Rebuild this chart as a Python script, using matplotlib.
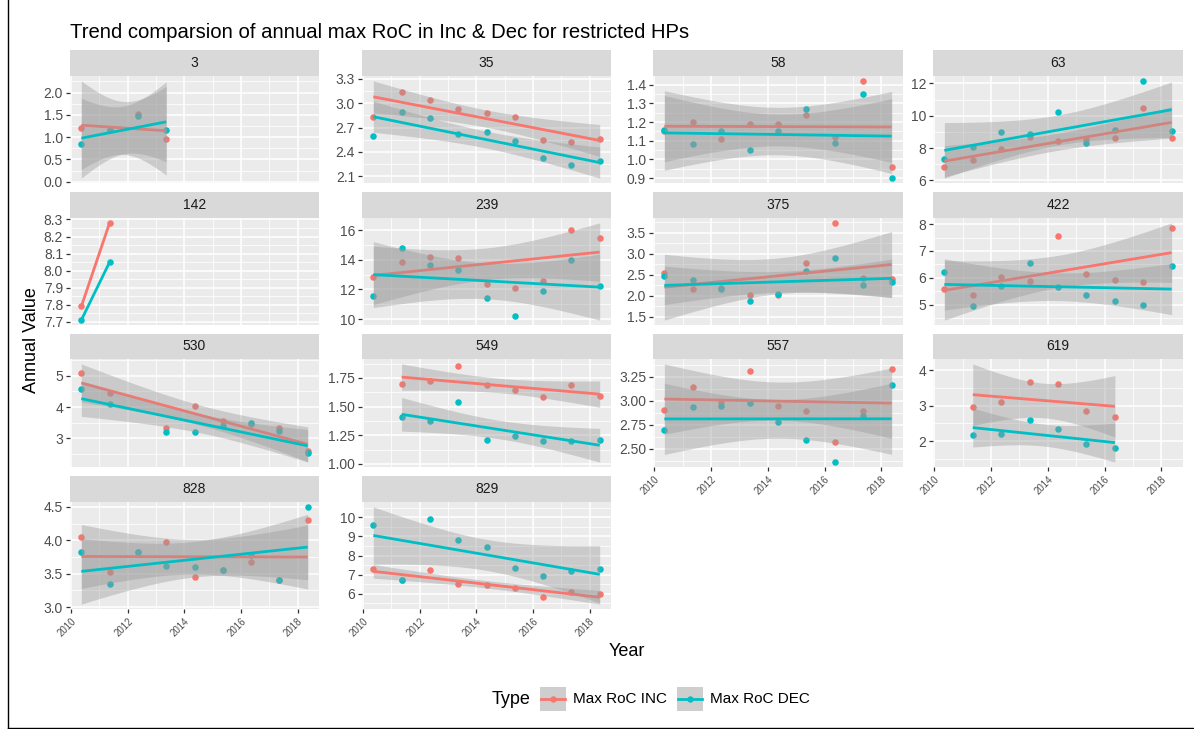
import numpy as np
import pandas as pd
import matplotlib
matplotlib.use("Agg")
import matplotlib.pyplot as plt
from matplotlib.ticker import FixedLocator, MultipleLocator, NullFormatter
from matplotlib.patches import Rectangle
from matplotlib.lines import Line2D

plt.rcParams["font.family"] = ["Liberation Sans", "DejaVu Sans"]

# === DATA ===
TITLE = "Trend comparsion of annual max RoC in Inc & Dec for restricted HPs"
series_names = ["Max RoC INC", "Max RoC DEC"]
obs_day = "05-12"   # annual max values are dated mid-May

hp3_years = [2010, 2011, 2012, 2013]
hp3_inc = [1.21, 1.15, 1.51, 0.95]
hp3_dec = [0.85, 1.16, 1.48, 1.15]
hp3_ticks = ["0.0", "0.5", "1.0", "1.5", "2.0"]

hp35_years = list(range(2010, 2019))
hp35_inc = [2.83, 3.14, 3.04, 2.93, 2.88, 2.83, 2.55, 2.52, 2.56]
hp35_dec = [2.59, 2.89, 2.82, 2.62, 2.65, 2.53, 2.33, 2.24, 2.29]
hp35_ticks = ["2.1", "2.4", "2.7", "3.0", "3.3"]

hp58_years = list(range(2010, 2019))
hp58_inc = [1.15, 1.20, 1.11, 1.19, 1.19, 1.24, 1.12, 1.42, 0.96]
hp58_dec = [1.16, 1.08, 1.15, 1.05, 1.15, 1.27, 1.09, 1.35, 0.90]
hp58_ticks = ["0.9", "1.0", "1.1", "1.2", "1.3", "1.4"]

hp63_years = list(range(2010, 2019))
hp63_inc = [6.82, 7.28, 7.96, 8.68, 8.45, 8.58, 8.64, 10.49, 8.60]
hp63_dec = [7.30, 8.06, 8.99, 8.85, 10.25, 8.29, 9.11, 12.16, 9.03]
hp63_ticks = ["6", "8", "10", "12"]

hp142_years = [2010, 2011]
hp142_inc = [7.79, 8.28]
hp142_dec = [7.71, 8.05]
hp142_ticks = ["7.7", "7.8", "7.9", "8.0", "8.1", "8.2", "8.3"]

hp239_years = list(range(2010, 2019))
hp239_inc = [12.87, 13.85, 14.16, 14.12, 12.40, 12.08, 12.60, 16.00, 15.49]
hp239_dec = [11.55, 14.81, 13.65, 13.34, 11.46, 10.25, 11.93, 13.99, 12.22]
hp239_ticks = ["10", "12", "14", "16"]

hp375_years = list(range(2010, 2019))
hp375_inc = [2.55, 2.16, 2.19, 2.02, 2.01, 2.79, 3.73, 2.42, 2.40]
hp375_dec = [2.47, 2.37, 2.17, 1.88, 2.04, 2.58, 2.89, 2.26, 2.33]
hp375_ticks = ["1.5", "2.0", "2.5", "3.0", "3.5"]

hp422_years = list(range(2010, 2019))
hp422_inc = [5.58, 5.35, 6.02, 5.90, 7.54, 6.15, 5.91, 5.84, 7.84]
hp422_dec = [6.23, 4.95, 5.69, 6.56, 5.65, 5.35, 5.15, 5.00, 6.44]
hp422_ticks = ["5", "6", "7", "8"]

hp530_years = [2010, 2011, 2013, 2014, 2015, 2016, 2017, 2018]
hp530_inc = [5.08, 4.45, 3.32, 4.03, 3.56, 3.45, 3.34, 2.61]
hp530_dec = [4.56, 4.11, 3.20, 3.20, 3.40, 3.49, 3.25, 2.54]
hp530_ticks = ["3", "4", "5"]

hp549_years = list(range(2011, 2019))
hp549_inc = [1.70, 1.72, 1.85, 1.69, 1.64, 1.58, 1.69, 1.59]
hp549_dec = [1.41, 1.37, 1.54, 1.21, 1.24, 1.20, 1.20, 1.21]
hp549_ticks = ["1.00", "1.25", "1.50", "1.75"]

hp557_years = list(range(2010, 2019))
hp557_inc = [2.90, 3.15, 2.99, 3.31, 2.95, 2.89, 2.57, 2.89, 3.33]
hp557_dec = [2.70, 2.94, 2.95, 2.98, 2.78, 2.59, 2.36, 2.84, 3.17]
hp557_ticks = ["2.50", "2.75", "3.00", "3.25"]

hp619_years = list(range(2011, 2017))
hp619_inc = [2.97, 3.11, 3.67, 3.60, 2.85, 2.68]
hp619_dec = [2.17, 2.20, 2.61, 2.34, 1.92, 1.80]
hp619_ticks = ["2", "3", "4"]

hp828_years = list(range(2010, 2019))
hp828_inc = [4.05, 3.53, 3.83, 3.97, 3.45, 3.56, 3.68, 3.40, 4.31]
hp828_dec = [3.82, 3.35, 3.82, 3.62, 3.60, 3.56, 3.78, 3.40, 4.50]
hp828_ticks = ["3.0", "3.5", "4.0", "4.5"]

hp829_years = list(range(2010, 2019))
hp829_inc = [7.30, 6.75, 7.25, 6.50, 6.45, 6.30, 5.85, 6.10, 6.00]
hp829_dec = [9.60, 6.75, 9.90, 8.80, 8.45, 7.35, 6.95, 7.20, 7.30]
hp829_ticks = ["6", "7", "8", "9", "10"]

x_breaks = ["2010", "2012", "2014", "2016", "2018"]

panels = [
    ("3", hp3_years, hp3_inc, hp3_dec, hp3_ticks),
    ("35", hp35_years, hp35_inc, hp35_dec, hp35_ticks),
    ("58", hp58_years, hp58_inc, hp58_dec, hp58_ticks),
    ("63", hp63_years, hp63_inc, hp63_dec, hp63_ticks),
    ("142", hp142_years, hp142_inc, hp142_dec, hp142_ticks),
    ("239", hp239_years, hp239_inc, hp239_dec, hp239_ticks),
    ("375", hp375_years, hp375_inc, hp375_dec, hp375_ticks),
    ("422", hp422_years, hp422_inc, hp422_dec, hp422_ticks),
    ("530", hp530_years, hp530_inc, hp530_dec, hp530_ticks),
    ("549", hp549_years, hp549_inc, hp549_dec, hp549_ticks),
    ("557", hp557_years, hp557_inc, hp557_dec, hp557_ticks),
    ("619", hp619_years, hp619_inc, hp619_dec, hp619_ticks),
    ("828", hp828_years, hp828_inc, hp828_dec, hp828_ticks),
    ("829", hp829_years, hp829_inc, hp829_dec, hp829_ticks),
]

# === STYLE ===
COLORS = ["#F8766D", "#00BFC4"]
PANEL_BG = "#EBEBEB"
STRIP_BG = "#D9D9D9"
TXT = "#4D4D4D"
T975 = {1: 12.706, 2: 4.303, 3: 3.182, 4: 2.776, 5: 2.571, 6: 2.447,
        7: 2.365, 8: 2.306, 9: 2.262, 10: 2.228}

W, H = 1194, 729


def to_dec(years):
    d = pd.to_datetime([f"{y}-{obs_day}" for y in years])
    return np.array(d.year + (d.dayofyear - 1) / 365.25)


def lm_band(x, y):
    # linear fit with 95% confidence band (like geom_smooth(method = "lm"))
    x = np.asarray(x, float)
    y = np.asarray(y, float)
    n = len(x)
    xm = x.mean()
    b1, b0 = np.polyfit(x - xm, y, 1)
    xs = np.linspace(x.min(), x.max(), 80)
    fit = b0 + b1 * (xs - xm)
    if n <= 2:
        return xs, fit, None, None
    resid = y - (b0 + b1 * (x - xm))
    s = np.sqrt(np.sum(resid ** 2) / (n - 2))
    sxx = np.sum((x - xm) ** 2)
    se = s * np.sqrt(1 / n + (xs - xm) ** 2 / sxx)
    t = T975[n - 2]
    return xs, fit, fit - t * se, fit + t * se


def fbox(x0, y0, x1, y1):
    # pixel box (top-left origin) -> figure fraction rect
    return [x0 / W, 1 - y1 / H, (x1 - x0) / W, (y1 - y0) / H]


# global x range (shared x scale)
all_x = np.concatenate([to_dec(p[1]) for p in panels])
xspan = all_x.max() - all_x.min()
XLIM = (all_x.min() - 0.05 * xspan, all_x.max() + 0.05 * xspan)

col_px = [(70, 319), (362, 611), (653, 903), (933, 1183)]
row_px = [(50, 76, 183), (192, 218, 325), (334, 359, 467), (476, 502, 609)]
bottom_axis = {"557", "619", "828", "829"}

fig = plt.figure(figsize=(W / 100, H / 100), dpi=100)

for i, (name, years, inc, dec, ticks) in enumerate(panels):
    r, c = divmod(i, 4)
    x0, x1 = col_px[c]
    s0, p0, p1 = row_px[r]
    ax = fig.add_axes(fbox(x0, p0, x1, p1))
    sax = fig.add_axes(fbox(x0, s0, x1, p0))
    sax.set_facecolor(STRIP_BG)
    sax.set_xticks([])
    sax.set_yticks([])
    for sp in sax.spines.values():
        sp.set_visible(False)
    sax.text(0.5, 0.5, name, ha="center", va="center", fontsize=10, color="#1A1A1A",
             transform=sax.transAxes)

    x = to_dec(years)
    ax.set_facecolor(PANEL_BG)
    for sp in ax.spines.values():
        sp.set_visible(False)

    lo, hi = [], []
    for vals, col in zip([inc, dec], COLORS):
        ax.scatter(x, vals, s=22, color=col, zorder=2, linewidths=0)
        lo.append(min(vals))
        hi.append(max(vals))
    z = 3
    for vals, col in zip([inc, dec], COLORS):
        xs, fit, bl, bu = lm_band(x, vals)
        if bl is not None:
            ax.fill_between(xs, bl, bu, color="#999999", alpha=0.4, linewidth=0, zorder=z)
            lo.append(bl.min())
            hi.append(bu.max())
        ax.plot(xs, fit, color=col, linewidth=2.0, zorder=z + 1, solid_capstyle="butt")
        z += 2

    ymin, ymax = min(lo), max(hi)
    yspan = ymax - ymin
    ax.set_ylim(ymin - 0.05 * yspan, ymax + 0.05 * yspan)
    ax.set_xlim(*XLIM)

    yt = [float(t) for t in ticks]
    ax.yaxis.set_major_locator(FixedLocator(yt))
    ax.set_yticklabels(ticks)
    ax.yaxis.set_minor_locator(MultipleLocator((yt[1] - yt[0]) / 2))
    xt = [int(b) for b in x_breaks]
    ax.xaxis.set_major_locator(FixedLocator(xt))
    ax.xaxis.set_minor_locator(MultipleLocator(1))
    ax.yaxis.set_minor_formatter(NullFormatter())
    ax.xaxis.set_minor_formatter(NullFormatter())

    ax.grid(which="major", color="white", linewidth=1.1, zorder=0)
    ax.grid(which="minor", color="white", linewidth=0.55, zorder=0)
    ax.set_axisbelow(True)
    ax.tick_params(axis="y", which="major", length=3, width=0.9, color="#333333",
                   labelsize=10, labelcolor=TXT, pad=2)
    ax.tick_params(which="minor", length=0)
    if name in bottom_axis:
        ax.set_xticklabels(x_breaks, rotation=45, ha="right", va="top",
                           rotation_mode="anchor")
        ax.tick_params(axis="x", which="major", length=3, width=0.9, color="#333333",
                       labelsize=7, labelcolor=TXT, pad=2)
    else:
        ax.tick_params(axis="x", which="major", length=0, labelbottom=False)

# titles
fig.text(70 / W, 1 - 32 / H, TITLE, fontsize=14.6, color="black", ha="left", va="center")
fig.text(627 / W, 1 - 651 / H, "Year", fontsize=13, ha="center", va="center")
fig.text(31 / W, 1 - 340 / H, "Annual Value", fontsize=13, rotation=90,
         ha="center", va="center")

# legend (bottom, ggplot-like)
ly = 699
fig.text(531 / W, 1 - ly / H, "Type", fontsize=13, ha="right", va="center")
key_x = [540, 677]
for kx, col, lab in zip(key_x, COLORS, series_names):
    kw, kh = 26, 24
    fig.patches.append(Rectangle((kx / W, 1 - (ly + kh / 2) / H), kw / W, kh / H,
                                 transform=fig.transFigure, facecolor="#CECECE",
                                 edgecolor="none"))
    fig.add_artist(Line2D([(kx + 1) / W, (kx + kw - 1) / W], [1 - ly / H, 1 - ly / H],
                          color=col, linewidth=2.0, transform=fig.transFigure))
    fig.add_artist(Line2D([(kx + kw / 2) / W], [1 - ly / H], marker="o", markersize=4.6,
                          color=col, markeredgewidth=0, transform=fig.transFigure))
    fig.text((kx + kw + 7) / W, 1 - ly / H, lab, fontsize=11, ha="left", va="center")

# frame around the screenshot (left and bottom edges)
fig.add_artist(Line2D([8 / W, 8 / W], [0, 1], color="black", linewidth=1,
                      transform=fig.transFigure))
fig.add_artist(Line2D([8 / W, 1], [1.5 / H, 1.5 / H], color="black", linewidth=1,
                      transform=fig.transFigure))

fig.savefig("out.png", dpi=100, facecolor="white")
